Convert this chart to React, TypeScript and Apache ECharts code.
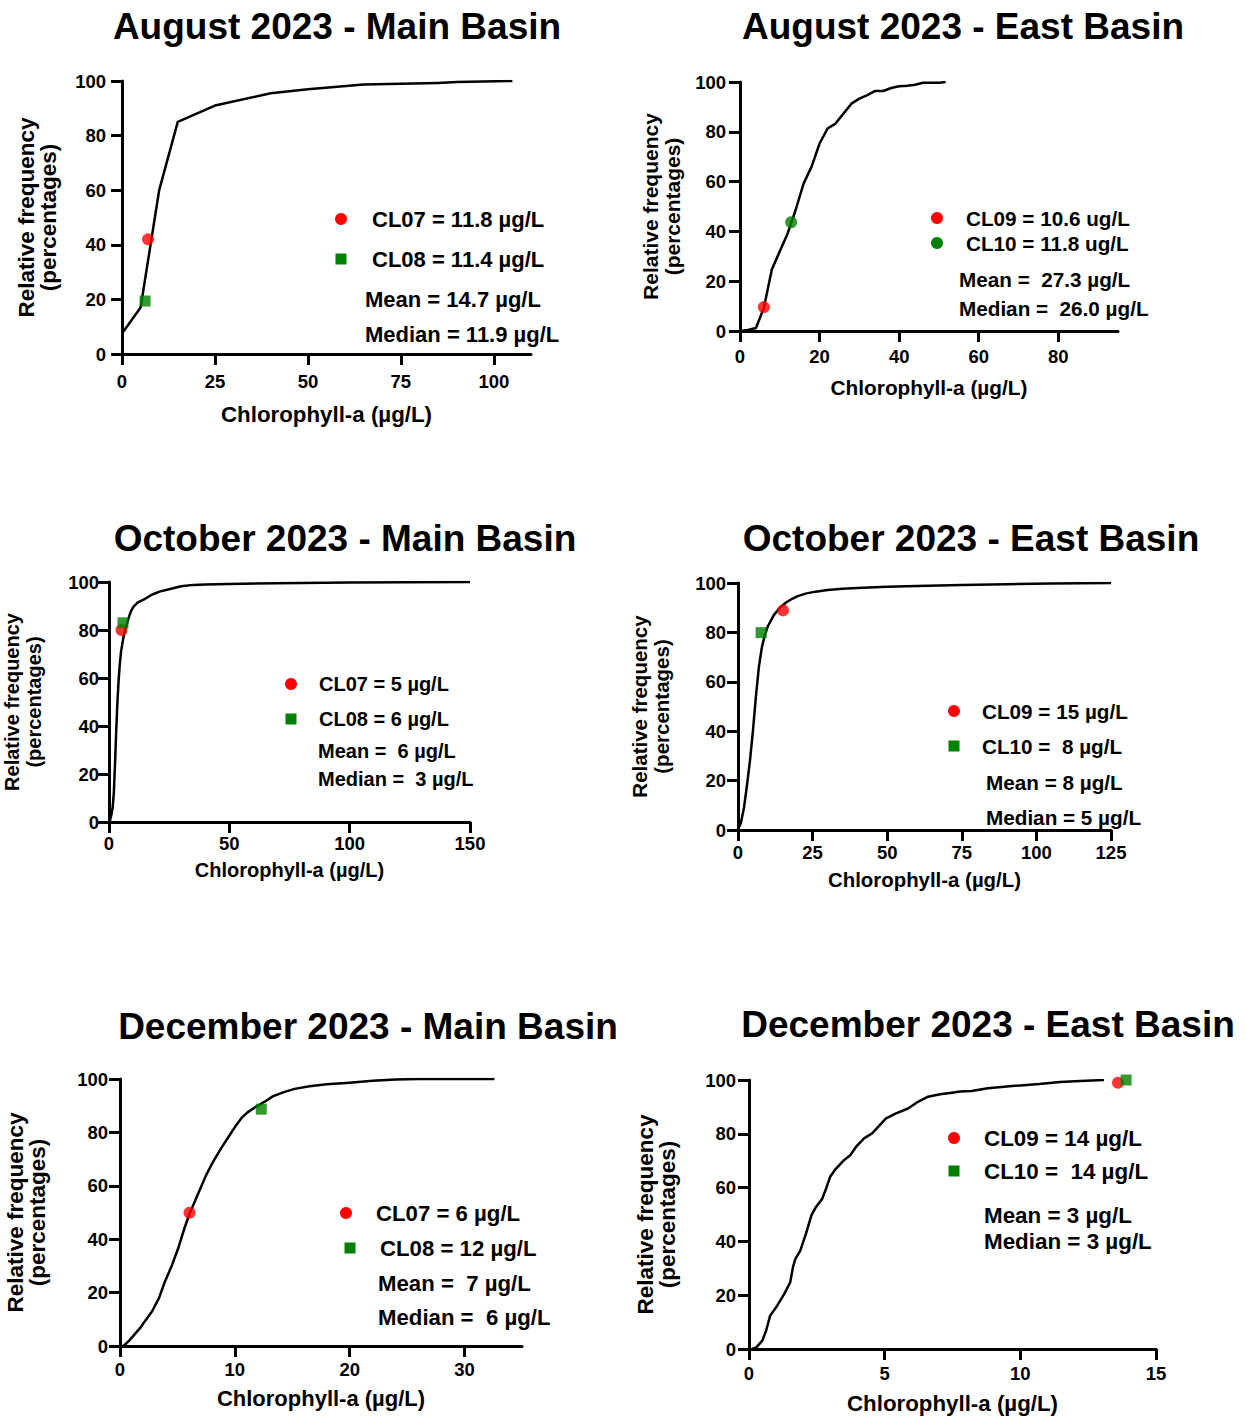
import React, { useEffect, useRef } from "react";
import * as echarts from "echarts";

const FONT = "'Liberation Sans', Arial, Helvetica, sans-serif";
const RED = "#ff0000";
const GREEN = "#008000";

// ---------- Titles & labels ----------
const titles = [
  "August 2023 - Main Basin",
  "August 2023 - East Basin",
  "October 2023 - Main Basin",
  "October 2023 - East Basin",
  "December 2023 - Main Basin",
  "December 2023 - East Basin",
];
const yAxisName = "Relative frequency\n(percentages)";
const xAxisName = "Chlorophyll-a (\u00b5g/L)";
const yTicks = [0, 20, 40, 60, 80, 100];

// ---------- August Main ----------
const augMainX = [0, 5, 10, 15, 25, 40, 50, 65, 85, 90, 105];
const augMainY = [7.5, 17, 60, 85, 91, 95.5, 97, 98.7, 99.3, 99.6, 100];
const augMainRed = [7, 42];
const augMainGreen = [6.2, 19.4];
const augMainLegend = ["CL07 = 11.8 \u00b5g/L", "CL08 = 11.4 \u00b5g/L"];
const augMainStats = ["Mean = 14.7 \u00b5g/L", "Median = 11.9 \u00b5g/L"];
const augMainXTicks = [0, 25, 50, 75, 100];

// ---------- August East ----------
const augEastX = [0, 2, 4, 6, 8, 10, 12, 14, 16, 18, 20, 22, 24, 26, 28, 30, 32, 34, 36, 38, 40, 42, 44, 46, 48, 50, 51.7];
const augEastY = [0, 0.4, 1.2, 9.3, 24.7, 32, 39.3, 48.7, 59.3, 66, 75.3, 81.3, 83.3, 87.3, 91.3, 93.3, 94.7, 96.4, 96.4, 97.6, 98.3, 98.5, 98.9, 99.7, 99.7, 99.7, 100];
const augEastRed = [6, 9.6];
const augEastGreen = [12.85, 43.7];
const augEastLegend = ["CL09 = 10.6 ug/L", "CL10 = 11.8 ug/L"];
const augEastStats = ["Mean =  27.3 \u00b5g/L", "Median =  26.0 \u00b5g/L"];
const augEastXTicks = [0, 20, 40, 60, 80];

// ---------- October Main ----------
const octMainX = [0, 0.5, 1, 1.5, 2, 2.5, 3, 3.5, 4, 4.5, 5, 6, 7, 8, 9, 10, 12, 15, 18, 21, 25, 30, 35, 40, 50, 70, 100, 150];
const octMainY = [0, 1, 3, 6, 12, 24, 38, 50, 59, 66, 71, 77, 81, 84.5, 87.5, 89.5, 91.5, 93, 94.8, 96, 97, 98.2, 98.8, 99, 99.2, 99.5, 99.8, 100];
const octMainRed = [5.2, 80];
const octMainGreen = [5.8, 83];
const octMainLegend = ["CL07 = 5 \u00b5g/L", "CL08 = 6 \u00b5g/L"];
const octMainStats = ["Mean =  6 \u00b5g/L", "Median =  3 \u00b5g/L"];
const octMainXTicks = [0, 50, 100, 150];

// ---------- October East ----------
const octEastX = [0, 1, 2, 3, 4, 5, 6, 7, 8, 9, 10, 12, 14, 16, 18, 20, 23, 26, 30, 35, 40, 50, 60, 75, 90, 105, 125];
const octEastY = [0, 3, 9, 18, 28, 40, 54, 66, 74, 79, 82.5, 87, 90, 92, 93.5, 94.7, 95.8, 96.5, 97.2, 97.7, 98, 98.5, 98.8, 99.2, 99.5, 99.8, 100];
const octEastRed = [15.1, 88.9];
const octEastGreen = [7.75, 79.9];
const octEastLegend = ["CL09 = 15 \u00b5g/L", "CL10 =  8 \u00b5g/L"];
const octEastStats = ["Mean = 8 \u00b5g/L", "Median = 5 \u00b5g/L"];
const octEastXTicks = [0, 25, 50, 75, 100, 125];

// ---------- December Main ----------
const decMainX = [0, 0.3, 0.8, 1.4, 1.8, 2.2, 2.8, 3.4, 3.9, 4.5, 5.1, 5.6, 6.1, 6.8, 7.5, 8.1, 8.8, 9.4, 10, 10.6, 11.1, 11.8, 12.6, 13.3, 14.2, 15.2, 16.5, 18, 20, 22, 24, 26, 32.6];
const decMainY = [0, 0, 2, 5, 7, 9.5, 13, 18, 24, 30, 37, 44, 50, 57, 64, 69, 74, 78, 82, 85.5, 87.5, 89.5, 91.5, 93.5, 95, 96.3, 97.3, 98, 98.6, 99.3, 99.8, 100, 100];
const decMainRed = [6.05, 49.9];
const decMainGreen = [12.3, 88.7];
const decMainLegend = ["CL07 = 6 \u00b5g/L", "CL08 = 12 \u00b5g/L"];
const decMainStats = ["Mean =  7 \u00b5g/L", "Median =  6 \u00b5g/L"];
const decMainXTicks = [0, 10, 20, 30];

// ---------- December East ----------
const decEastX = [0.12, 0.27, 0.49, 0.63, 0.78, 1, 1.3, 1.52, 1.62, 1.71, 1.89, 2.1, 2.3, 2.47, 2.7, 2.84, 2.99, 3.2, 3.5, 3.73, 3.95, 4.24, 4.53, 4.76, 5.05, 5.42, 5.86, 6.23, 6.6, 7.04, 7.48, 7.78, 8.2, 8.8, 9.4, 10, 10.7, 11.46, 12.2, 13.08];
const decEastY = [0, 0.6, 3.1, 6.8, 12.4, 15.5, 20.5, 24.8, 30.4, 33.5, 36.6, 42.9, 49.7, 52.8, 55.9, 59.6, 64, 67, 70.2, 72, 75.2, 78.3, 80.1, 82.6, 85.7, 87.6, 89.4, 91.9, 93.8, 94.7, 95.3, 95.7, 95.9, 96.9, 97.5, 98, 98.5, 99.3, 99.6, 100];
const decEastRed = [13.6, 99];
const decEastGreen = [13.9, 100];
const decEastLegend = ["CL09 = 14 \u00b5g/L", "CL10 =  14 \u00b5g/L"];
const decEastStats = ["Mean = 3 \u00b5g/L", "Median = 3 \u00b5g/L"];
const decEastXTicks = [0, 5, 10, 15];

// ---------- Layout (positions / styles) ----------
type Layout = {
  grid: { left: number; top: number; width: number; height: number };
  xMax: number;
  xLabelMargin: number;
  yLabelMargin: number;
  xNameGap: number;
  yNameGap: number;
  xNameFs: number;
  yNameFs: number;
  titleX: number;
  titleTop: number;
  greenShape: "rect" | "circle";
  leg: { redX: number; redY: number; redTextX: number; grX: number; grY: number; grTextX: number; statX: number; meanY: number; medianY: number; fs: number };
};

const layouts: Layout[] = [
  {
    grid: { left: 122, top: 81, width: 409, height: 273 }, xMax: 110,
    xLabelMargin: 18, yLabelMargin: 16, xNameGap: 50, yNameGap: 63, xNameFs: 22.3, yNameFs: 22.5,
    titleX: 337, titleTop: 8, greenShape: "rect",
    leg: { redX: 341, redY: 219, redTextX: 372, grX: 341, grY: 259, grTextX: 372, statX: 365, meanY: 299, medianY: 334, fs: 22 },
  },
  {
    grid: { left: 740, top: 82, width: 378, height: 249 }, xMax: 95,
    xLabelMargin: 16, yLabelMargin: 14, xNameGap: 46, yNameGap: 57, xNameFs: 20.8, yNameFs: 21,
    titleX: 963, titleTop: 8, greenShape: "circle",
    leg: { redX: 937, redY: 218, redTextX: 966, grX: 937, grY: 243, grTextX: 966, statX: 959, meanY: 279, medianY: 308, fs: 20.7 },
  },
  {
    grid: { left: 107, top: 582, width: 363, height: 240 }, xMax: 150,
    xLabelMargin: 12, yLabelMargin: 10, xNameGap: 37, yNameGap: 64, xNameFs: 20, yNameFs: 20,
    titleX: 345, titleTop: 520, greenShape: "rect",
    leg: { redX: 291, redY: 684, redTextX: 319, grX: 291, grY: 719, grTextX: 319, statX: 318, meanY: 751, medianY: 779, fs: 20 },
  },
  {
    grid: { left: 738, top: 583, width: 373, height: 247 }, xMax: 125,
    xLabelMargin: 13, yLabelMargin: 12, xNameGap: 39, yNameGap: 66, xNameFs: 20.4, yNameFs: 20.5,
    titleX: 971, titleTop: 520, greenShape: "rect",
    leg: { redX: 954, redY: 711, redTextX: 982, grX: 954, grY: 746, grTextX: 982, statX: 986, meanY: 782, medianY: 817, fs: 20.7 },
  },
  {
    grid: { left: 120, top: 1079, width: 402, height: 267 }, xMax: 35,
    xLabelMargin: 14, yLabelMargin: 12, xNameGap: 42, yNameGap: 72, xNameFs: 22, yNameFs: 22.5,
    titleX: 368, titleTop: 1008, greenShape: "rect",
    leg: { redX: 346, redY: 1213, redTextX: 376, grX: 350, grY: 1248, grTextX: 380, statX: 378, meanY: 1283, medianY: 1317, fs: 22.2 },
  },
  {
    grid: { left: 749, top: 1080, width: 407, height: 269 }, xMax: 15,
    xLabelMargin: 15, yLabelMargin: 13, xNameGap: 44, yNameGap: 71, xNameFs: 22.3, yNameFs: 22.5,
    titleX: 988, titleTop: 1006, greenShape: "rect",
    leg: { redX: 954, redY: 1138, redTextX: 984, grX: 954, grY: 1171, grTextX: 984, statX: 984, meanY: 1215, medianY: 1241, fs: 22.4 },
  },
];

const curvesX = [augMainX, augEastX, octMainX, octEastX, decMainX, decEastX];
const curvesY = [augMainY, augEastY, octMainY, octEastY, decMainY, decEastY];
const redPts = [augMainRed, augEastRed, octMainRed, octEastRed, decMainRed, decEastRed];
const greenPts = [augMainGreen, augEastGreen, octMainGreen, octEastGreen, decMainGreen, decEastGreen];
const legends = [augMainLegend, augEastLegend, octMainLegend, octEastLegend, decMainLegend, decEastLegend];
const stats = [augMainStats, augEastStats, octMainStats, octEastStats, decMainStats, decEastStats];
const xTicks = [augMainXTicks, augEastXTicks, octMainXTicks, octEastXTicks, decMainXTicks, decEastXTicks];

function buildOption() {
  const grid: any[] = [];
  const xAxis: any[] = [];
  const yAxis: any[] = [];
  const series: any[] = [];
  const title: any[] = [];
  const graphic: any[] = [];

  const tickFs = 18.5;

  layouts.forEach((L, i) => {
    grid.push({ ...L.grid, containLabel: false });
    xAxis.push({
      type: "value",
      gridIndex: i,
      min: 0,
      max: L.xMax,
      splitLine: { show: false },
      axisLine: { show: true, onZero: false, lineStyle: { color: "#000", width: 3 } },
      axisTick: { show: true, length: 11, lineStyle: { color: "#000", width: 3 }, customValues: xTicks[i] },
      axisLabel: {
        customValues: xTicks[i],
        margin: L.xLabelMargin,
        color: "#000",
        fontSize: tickFs,
        fontWeight: "bold",
        fontFamily: FONT,
      },
      name: xAxisName,
      nameLocation: "middle",
      nameGap: L.xNameGap,
      nameTextStyle: { color: "#000", fontSize: L.xNameFs, fontWeight: "bold", fontFamily: FONT, lineHeight: 21 },
    });
    yAxis.push({
      type: "value",
      gridIndex: i,
      min: 0,
      max: 100,
      interval: 20,
      splitLine: { show: false },
      axisLine: { show: true, onZero: false, lineStyle: { color: "#000", width: 3 } },
      axisTick: { show: true, length: 11, lineStyle: { color: "#000", width: 3 }, customValues: yTicks },
      axisLabel: {
        customValues: yTicks,
        margin: L.yLabelMargin,
        color: "#000",
        fontSize: tickFs,
        fontWeight: "bold",
        fontFamily: FONT,
      },
      name: yAxisName,
      nameLocation: "middle",
      nameRotate: 90,
      nameGap: L.yNameGap,
      nameTextStyle: { color: "#000", fontSize: L.yNameFs, fontWeight: "bold", fontFamily: FONT, lineHeight: 22 },
    });

    series.push({
      type: "line",
      name: titles[i],
      xAxisIndex: i,
      yAxisIndex: i,
      data: curvesX[i].map((x, k) => [x, curvesY[i][k]]),
      showSymbol: false,
      symbol: "none",
      smooth: false,
      lineStyle: { color: "#000", width: 2.5, join: "round" },
      z: 2,
    });
    series.push({
      type: "scatter",
      name: legends[i][0],
      xAxisIndex: i,
      yAxisIndex: i,
      data: [redPts[i]],
      symbol: "circle",
      symbolSize: 12,
      itemStyle: { color: RED },
      clip: false,
      z: 3,
    });
    series.push({
      type: "scatter",
      name: legends[i][1],
      xAxisIndex: i,
      yAxisIndex: i,
      data: [greenPts[i]],
      symbol: L.greenShape,
      symbolSize: L.greenShape === "rect" ? 11 : 12,
      itemStyle: { color: GREEN },
      clip: false,
      z: 3,
    });

    title.push({
      text: titles[i],
      left: L.titleX,
      top: L.titleTop,
      textAlign: "center",
      padding: 0,
      textStyle: { color: "#000", fontSize: 37, fontWeight: "bold", fontFamily: FONT, lineHeight: 37 },
    });

    const g = L.leg;
    const textStyle = (t: string) => ({
      text: t,
      fill: "#000",
      fontSize: g.fs,
      fontWeight: "bold",
      fontFamily: FONT,
      align: "left",
      verticalAlign: "middle",
    });
    graphic.push({ type: "circle", shape: { cx: g.redX, cy: g.redY, r: 6 }, style: { fill: RED } });
    if (L.greenShape === "rect") {
      graphic.push({ type: "rect", shape: { x: g.grX - 5.5, y: g.grY - 5.5, width: 11, height: 11 }, style: { fill: GREEN } });
    } else {
      graphic.push({ type: "circle", shape: { cx: g.grX, cy: g.grY, r: 6 }, style: { fill: GREEN } });
    }
    graphic.push({ type: "text", x: g.redTextX, y: g.redY, style: textStyle(legends[i][0]) });
    graphic.push({ type: "text", x: g.grTextX, y: g.grY, style: textStyle(legends[i][1]) });
    graphic.push({ type: "text", x: g.statX, y: g.meanY, style: textStyle(stats[i][0]) });
    graphic.push({ type: "text", x: g.statX, y: g.medianY, style: textStyle(stats[i][1]) });
  });

  return {
    animation: false,
    backgroundColor: "#fff",
    textStyle: { fontFamily: FONT },
    title,
    grid,
    xAxis,
    yAxis,
    series,
    graphic,
  };
}

export default function App() {
  const ref = useRef<HTMLDivElement>(null);
  useEffect(() => {
    if (!ref.current) return;
    const chart = echarts.init(ref.current, null, { renderer: "svg" });
    chart.setOption(buildOption() as any);
    return () => chart.dispose();
  }, []);
  return (
    <div
      ref={ref}
      style={{ position: "fixed", left: 0, top: 0, width: 1247, height: 1416, background: "#fff" }}
    />
  );
}
